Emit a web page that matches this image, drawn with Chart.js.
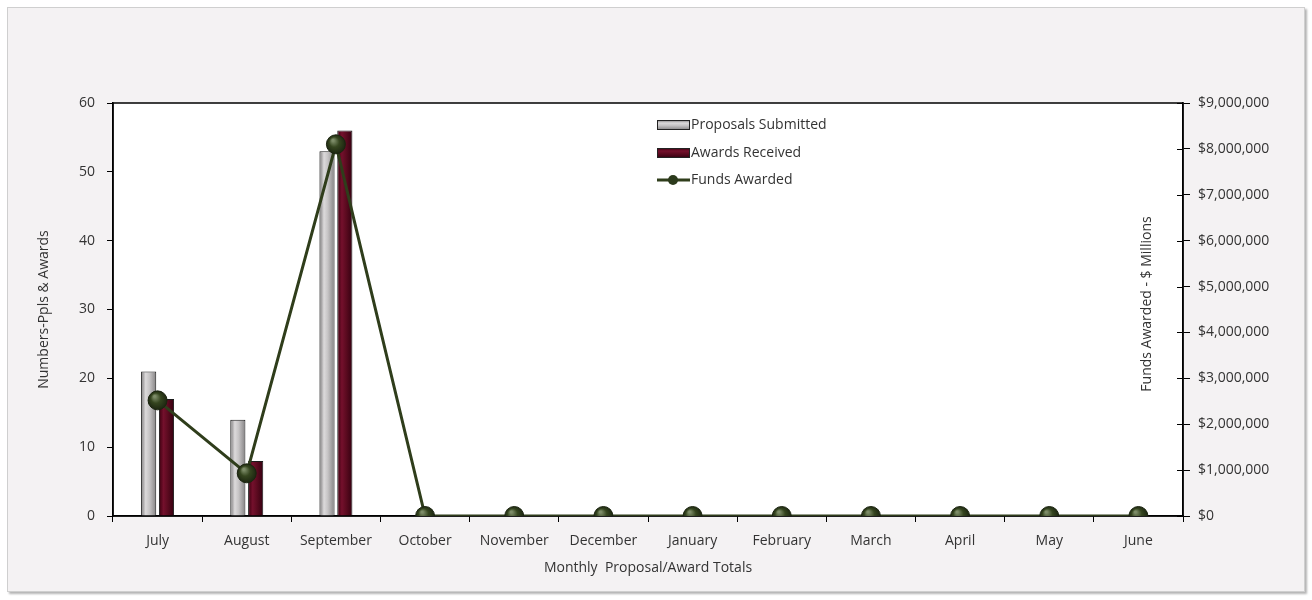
<!DOCTYPE html>
<html lang="en">
<head>
  <meta charset="UTF-8">
  <title>Monthly Proposal/Award Totals</title>
  <script src="https://cdn.jsdelivr.net/npm/chart.js"></script>
  <style>
    body { margin: 0; background: #fff; }
    #frame {
      position: absolute; left: 7px; top: 7px; width: 1296px; height: 583px;
      background: #f4f2f3; border: 1px solid #cfcfcf;
      box-shadow: 2px 2px 2px #b5b5b5;
    }
    #chart { position: absolute; left: 0; top: 0; }
  </style>
</head>
<body>
  <div id="frame"></div>
  <canvas id="chart" width="1312" height="600"></canvas>

  <script>
    const months = ["July", "August", "September", "October", "November", "December",
                    "January", "February", "March", "April", "May", "June"];
    const proposals = [21, 14, 53, 0, 0, 0, 0, 0, 0, 0, 0, 0];
    const awards = [17, 8, 56, 0, 0, 0, 0, 0, 0, 0, 0, 0];
    const funds = [2520000, 930000, 8100000, 0, 0, 0, 0, 0, 0, 0, 0, 0];

    const FONT = { family: "'Open Sans', 'Noto Sans', sans-serif", size: 14 };
    const TXT = "#333";
    const CAT_PCT = 0.4, BAR_PCT = 0.85;

    const grayStops = [[0, "#7a7879"], [0.3, "#dcdadb"], [0.55, "#c6c4c5"], [1, "#858384"]];
    const maroonStops = [[0, "#3a000f"], [0.3, "#74102c"], [0.6, "#5a0a1f"], [1, "#330010"]];

    function hGrad(ctx, x0, x1, stops) {
      const g = ctx.createLinearGradient(x0, 0, x1, 0);
      stops.forEach(s => g.addColorStop(s[0], s[1]));
      return g;
    }

    // gradient across each bar, worked out from the x scale
    function barFill(stops, side) {
      return function (c) {
        const chart = c.chart, xs = chart.scales.x;
        if (!xs || c.type !== "data") return stops[1][1];
        const center = xs.getPixelForValue(c.dataIndex);
        const slot = xs.width / months.length * CAT_PCT / 2;
        const w = slot * BAR_PCT;
        const bx = center + side * slot / 2;
        if (!isFinite(bx) || !isFinite(w) || w <= 0) return stops[1][1];
        return hGrad(chart.ctx, bx - w / 2, bx + w / 2, stops);
      };
    }

    function dotFill(c) {
      const chart = c.chart, xs = chart.scales.x, ys = chart.scales.y1;
      if (!xs || !ys || c.type !== "data") return "#2c3a1c";
      const x = xs.getPixelForValue(c.dataIndex);
      const y = ys.getPixelForValue(funds[c.dataIndex]);
      if (!isFinite(x) || !isFinite(y)) return "#2c3a1c";
      const g = chart.ctx.createRadialGradient(x - 3, y - 4, 1, x, y, 10);
      g.addColorStop(0, "#7d8c68");
      g.addColorStop(0.45, "#35451f");
      g.addColorStop(1, "#1b2410");
      return g;
    }

    const frameBits = {
      id: "frameBits",
      beforeDraw(chart) {
        const { ctx, chartArea: a } = chart;
        ctx.save();
        ctx.fillStyle = "#fff";
        ctx.fillRect(a.left, a.top, a.right - a.left, a.bottom - a.top);
        ctx.restore();
      },
      beforeDatasetsDraw(chart) {
        const { ctx, chartArea: a } = chart;
        ctx.save();
        ctx.strokeStyle = "#000";
        ctx.lineWidth = 1.5;
        ctx.strokeRect(a.left, a.top, a.right - a.left, a.bottom - a.top);
        // right axis ticks poke into the plot as well
        const ys = chart.scales.y1;
        ctx.lineWidth = 1;
        ys.ticks.forEach(t => {
          const y = Math.round(ys.getPixelForValue(t.value)) + 0.5;
          ctx.beginPath();
          ctx.moveTo(a.right - 6, y);
          ctx.lineTo(a.right, y);
          ctx.stroke();
        });
        ctx.restore();
      },
      afterDraw(chart) {
        const { ctx } = chart;
        ctx.save();
        ctx.font = FONT.size + "px " + FONT.family;
        ctx.fillStyle = TXT;
        // right axis title sits inside the plot, reading upward
        ctx.translate(1147, 304);
        ctx.rotate(-Math.PI / 2);
        ctx.textAlign = "center";
        ctx.textBaseline = "middle";
        ctx.fillText("Funds Awarded - $ Millions", 0, 0);
        ctx.restore();

        // legend
        ctx.save();
        ctx.font = FONT.size + "px " + FONT.family;
        ctx.textBaseline = "middle";
        const lx = 657, rows = [125, 153, 180];
        [grayStops, maroonStops].forEach((st, i) => {
          const y = rows[i];
          const g = ctx.createLinearGradient(0, y - 5, 0, y + 5);
          st.forEach(s => g.addColorStop(s[0], s[1]));
          ctx.fillStyle = g;
          ctx.fillRect(lx, y - 5, 33, 10);
          ctx.strokeStyle = "#222";
          ctx.lineWidth = 1;
          ctx.strokeRect(lx + 0.5, y - 4.5, 32, 9);
        });
        ctx.strokeStyle = "#2f3d1b";
        ctx.lineWidth = 3;
        ctx.beginPath();
        ctx.moveTo(lx, rows[2]);
        ctx.lineTo(lx + 33, rows[2]);
        ctx.stroke();
        ctx.fillStyle = "#2c3a1c";
        ctx.beginPath();
        ctx.arc(lx + 16, rows[2], 5, 0, Math.PI * 2);
        ctx.fill();
        ctx.fillStyle = TXT;
        chart.data.datasets.forEach((ds, i) => ctx.fillText(ds.label, lx + 34, rows[i]));
        ctx.restore();
      }
    };

    const chart = new Chart(document.getElementById("chart"), {
      type: "bar",
      data: {
        labels: months,
        datasets: [
          {
            label: "Proposals Submitted",
            data: proposals,
            yAxisID: "y",
            order: 1,
            backgroundColor: barFill(grayStops, -1),
            borderColor: "#1a1a1a",
            borderWidth: 1,
            categoryPercentage: CAT_PCT,
            barPercentage: BAR_PCT
          },
          {
            label: "Awards Received",
            data: awards,
            yAxisID: "y",
            order: 1,
            backgroundColor: barFill(maroonStops, 1),
            borderColor: "#1a1a1a",
            borderWidth: 1,
            categoryPercentage: CAT_PCT,
            barPercentage: BAR_PCT
          },
          {
            type: "line",
            label: "Funds Awarded",
            data: funds,
            yAxisID: "y1",
            order: 0,
            borderColor: "#2f3d1b",
            borderWidth: 3,
            pointRadius: 9.5,
            pointBackgroundColor: dotFill,
            pointBorderColor: "#1b2410",
            pointBorderWidth: 1,
            tension: 0
          }
        ]
      },
      options: {
        responsive: false,
        animation: false,
        layout: { padding: { top: 103, left: 0, right: 0, bottom: 0 } },
        plugins: { legend: { display: false }, tooltip: { enabled: false } },
        scales: {
          x: {
            offset: true,
            grid: { offset: true, drawOnChartArea: false, drawTicks: true, tickLength: 6, color: "#000" },
            border: { color: "#000", width: 1.5 },
            ticks: { padding: 11, font: FONT, color: TXT },
            title: { display: true, text: "Monthly  Proposal/Award Totals", font: FONT, color: TXT, padding: { top: 4, bottom: 24 } },
            afterFit: s => { s.height = 84; }
          },
          y: {
            position: "left",
            min: 0,
            max: 60,
            ticks: { stepSize: 10, padding: 12, font: FONT, color: TXT },
            grid: { drawOnChartArea: false, tickLength: 6, color: "#000" },
            border: { color: "#000", width: 1.5 },
            title: { display: true, text: "Numbers-Ppls & Awards", font: FONT, color: TXT, padding: { top: 36 } },
            afterFit: s => { s.width = 113; }
          },
          y1: {
            position: "right",
            min: 0,
            max: 9000000,
            ticks: {
              stepSize: 1000000, padding: 8, font: FONT, color: TXT,
              callback: v => "$" + v.toLocaleString("en-US")
            },
            grid: { drawOnChartArea: false, tickLength: 7, color: "#000" },
            border: { color: "#000", width: 1.5 },
            afterFit: s => { s.width = 129; }
          }
        }
      },
      plugins: [frameBits]
    });
    // second pass so the gradients see laid-out scales
    chart.update();
  </script>
</body>
</html>
